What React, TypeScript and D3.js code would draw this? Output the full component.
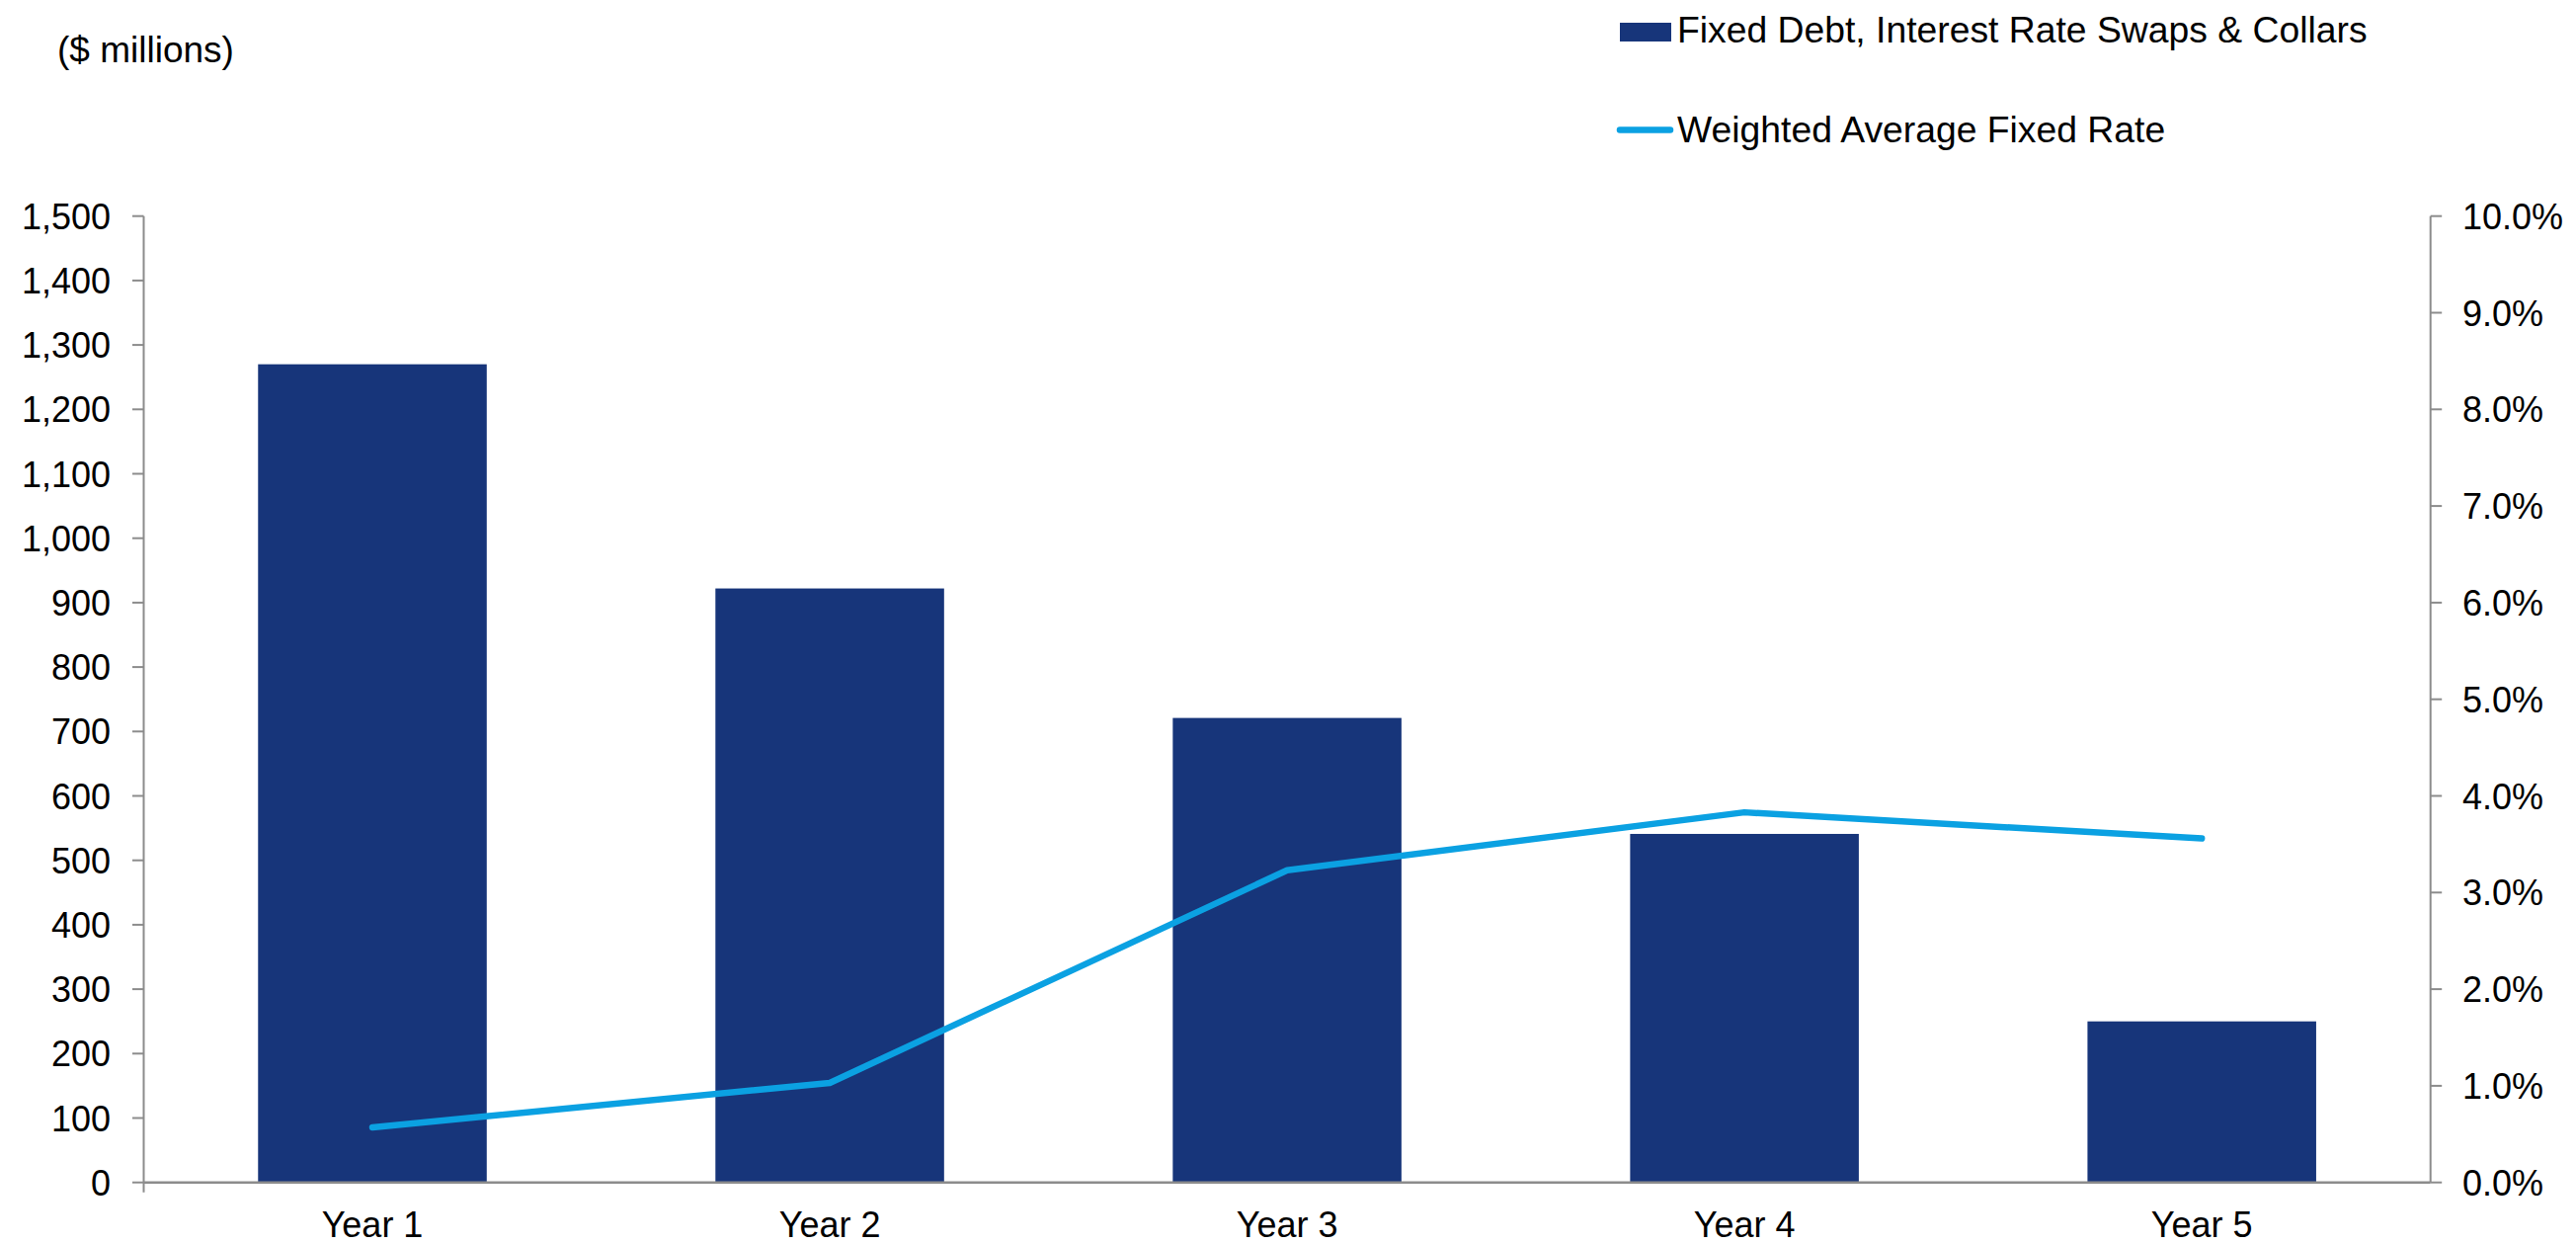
import React from "react";
import * as d3 from "d3";

const categories = ["Year 1", "Year 2", "Year 3", "Year 4", "Year 5"];
const debtValues = [1270, 922, 721, 541, 250];
const rateValues = [0.57, 1.03, 3.23, 3.83, 3.56];
const leftTicks = [0, 100, 200, 300, 400, 500, 600, 700, 800, 900, 1000, 1100, 1200, 1300, 1400, 1500];
const rightTicks = [0, 1, 2, 3, 4, 5, 6, 7, 8, 9, 10];
const legendLabels = ["Fixed Debt, Interest Rate Swaps & Collars", "Weighted Average Fixed Rate"];
const unitLabel = "($ millions)";

const W = 2608;
const H = 1259;
const FONT = "Arial, 'Liberation Sans', sans-serif";
const BAR = "#17357A";
const LINE = "#0BA1E2";
const AXIS = "#8C8C8C";

export default function App() {
  const left = 145.5;
  const right = 2460.7;
  const top = 218.7;
  const bottom = 1196.7;

  const x = d3.scaleBand<string>().domain(categories).range([left, right]).paddingInner(0.5).paddingOuter(0.25);
  const yL = d3.scaleLinear().domain([0, 1500]).range([bottom, top]);
  const yR = d3.scaleLinear().domain([0, 10]).range([bottom, top]);
  const fmtL = d3.format(",");
  const fmtR = (v: number) => v.toFixed(1) + "%";

  const line = d3
    .line<number>()
    .x((_, i) => (x(categories[i]) as number) + x.bandwidth() / 2)
    .y((d) => yR(d));

  return (
    <svg width={W} height={H} style={{ position: "absolute", left: 0, top: 0, background: "#fff" }} fontFamily={FONT}>
      <rect x={0} y={0} width={W} height={H} fill="#fff" />
      <text x={58} y={63} fontSize={37} fill="#000">{unitLabel}</text>

      {/* legend */}
      <rect x={1640} y={23} width={52} height={19} fill={BAR} />
      <text x={1698} y={43} fontSize={37.3} fill="#000">{legendLabels[0]}</text>
      <line x1={1640} x2={1691} y1={131.5} y2={131.5} stroke={LINE} strokeWidth={6.5} strokeLinecap="round" />
      <text x={1698} y={143.5} fontSize={37.3} fill="#000">{legendLabels[1]}</text>

      {/* bars */}
      {debtValues.map((v, i) => (
        <rect
          key={categories[i]}
          x={x(categories[i]) as number}
          y={yL(v)}
          width={x.bandwidth()}
          height={yL(0) - yL(v)}
          fill={BAR}
        />
      ))}

      {/* axes */}
      <line x1={left} x2={left} y1={top} y2={bottom + 10} stroke={AXIS} strokeWidth={2} />
      {leftTicks.map((t) => (
        <g key={"l" + t}>
          <line x1={left - 11.5} x2={left} y1={yL(t)} y2={yL(t)} stroke={AXIS} strokeWidth={2} />
          <text x={112} y={yL(t) + 13} fontSize={36} textAnchor="end" fill="#000">{fmtL(t)}</text>
        </g>
      ))}
      <line x1={right} x2={right} y1={top} y2={bottom} stroke={AXIS} strokeWidth={2} />
      {rightTicks.map((t) => (
        <g key={"r" + t}>
          <line x1={right} x2={right + 11.5} y1={yR(t)} y2={yR(t)} stroke={AXIS} strokeWidth={2} />
          <text x={2493} y={yR(t) + 13} fontSize={36} textAnchor="start" fill="#000">{fmtR(t)}</text>
        </g>
      ))}
      <line x1={left} x2={right} y1={bottom} y2={bottom} stroke={AXIS} strokeWidth={2.5} />
      {categories.map((c) => (
        <text key={c} x={(x(c) as number) + x.bandwidth() / 2} y={1252} fontSize={36} textAnchor="middle" fill="#000">
          {c}
        </text>
      ))}

      {/* rate line */}
      <path d={line(rateValues) || ""} fill="none" stroke={LINE} strokeWidth={6.5} strokeLinejoin="round" strokeLinecap="round" />
    </svg>
  );
}
